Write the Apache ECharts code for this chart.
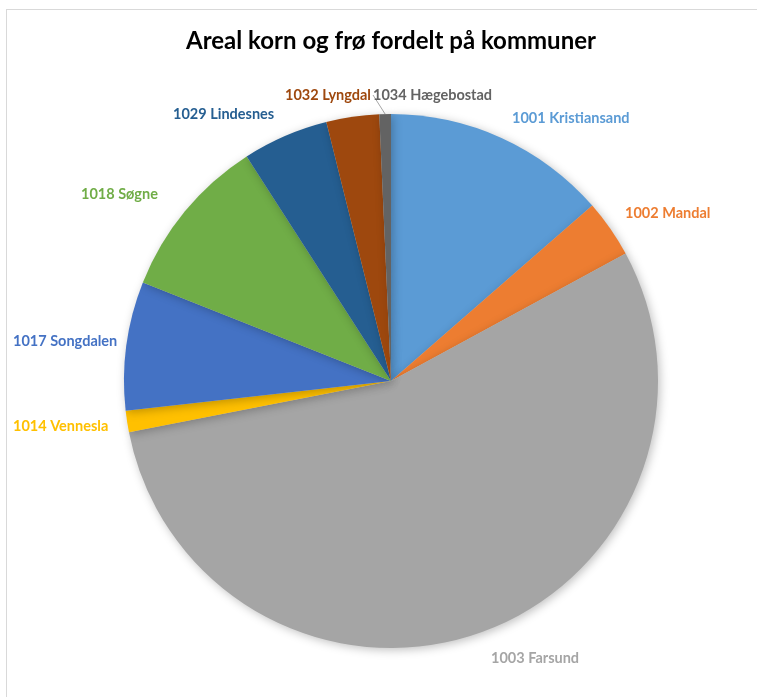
<!DOCTYPE html>
<html>
<head>
<meta charset="utf-8">
<script src="https://cdn.jsdelivr.net/npm/echarts@6/dist/echarts.min.js"></script>
<style>
	html,body{margin:0;padding:0;background:#fff;}
	#chart{position:absolute;left:6px;top:9px;width:760px;height:700px;border:1px solid #d9d9d9;box-sizing:border-box;}
</style>
</head>
<body>
<div id="chart"></div>
<script>
	// kommuner og andel (lest av figuren, i prosent)
	var kommuner = ["1001 Kristiansand","1002 Mandal","1003 Farsund","1014 Vennesla","1017 Songdalen","1018 Søgne","1029 Lindesnes","1032 Lyngdal","1034 Hægebostad"];
	var verdier = [13.6, 3.5, 54.9, 1.3, 7.8, 9.9, 5.2, 3.2, 0.7];
	var farger = ["#5b9bd5","#ed7d31","#a5a5a5","#ffc000","#4472c4","#70ad47","#255e91","#9e480e","#636363"];

	// plassering av etikettene (venstre kant, midtlinje)
	var etikettPos = [[505,108],[618,203],[484,648],[6,416],[6,331],[74,184],[166,104],[278,85],[366,85]];

	var myChart = echarts.init(document.getElementById("chart"));
	var data = kommuner.map(function(k, i){
		return {
			name: k,
			value: verdier[i],
			itemStyle: {color: farger[i]},
			label: {color: farger[i]},
			labelLine: {show: i === 8, lineStyle: {color: "#a6a6a6", width: 1}}
		};
	});
	var option = {
		title: {
			text: "Areal korn og frø fordelt på kommuner",
			left: 379, top: 14, textAlign: "center",
			textStyle: {fontFamily: "Lato", fontWeight: "bold", fontSize: 24, color: "#000"}
		},
		series: [{
			type: "pie",
			center: [384, 371],
			radius: 267,
			startAngle: 90,
			clockwise: true,
			silent: true,
			itemStyle: {shadowBlur: 10, shadowColor: "rgba(0,0,0,0.25)", shadowOffsetX: 2, shadowOffsetY: 2},
			label: {
				show: true, position: "outside", overflow: "none",
				fontFamily: "Lato", fontWeight: "bold", fontSize: 14.5
			},
			labelLine: {length: 8, length2: 0},
			labelLayout: function(p){
				var pos = etikettPos[p.dataIndex];
				return {x: pos[0], y: pos[1], align: "left", verticalAlign: "middle", hideOverlap: false, moveOverlap: null};
			},
			data: data
		}]
	};
	myChart.setOption(option);
</script>
</body>
</html>
